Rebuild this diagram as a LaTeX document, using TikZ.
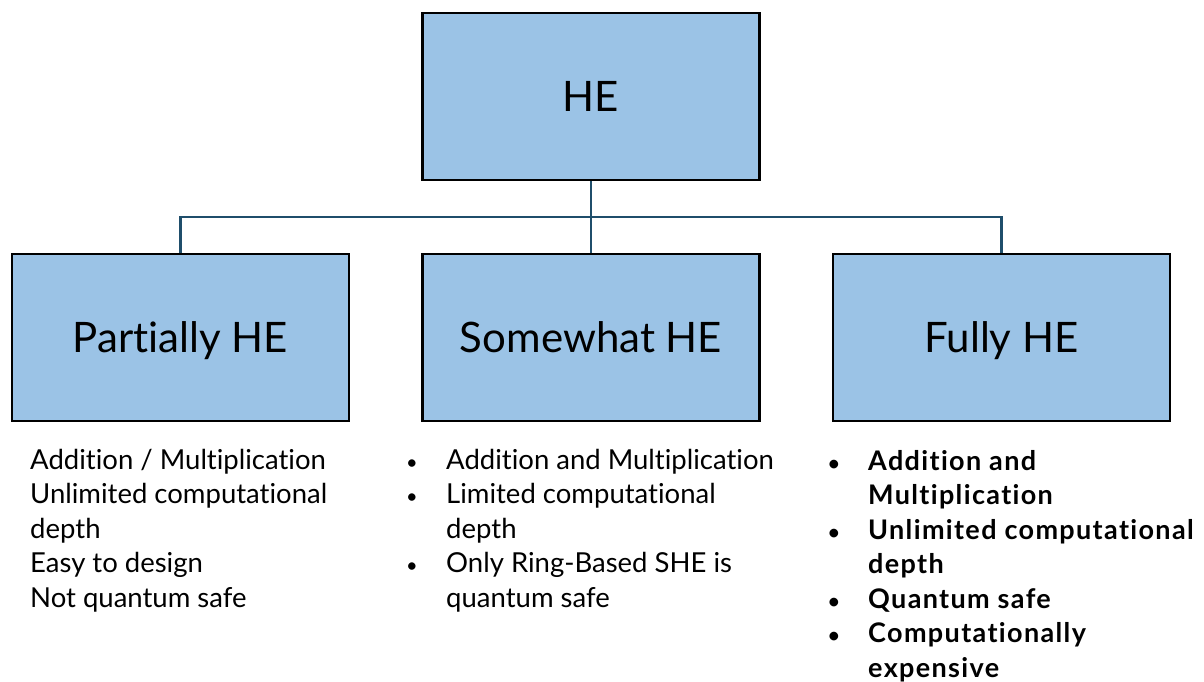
\documentclass[tikz,border=0pt]{standalone}
\usepackage{fontspec}
\setmainfont{Lato}[Ligatures=NoCommon]
\definecolor{boxfill}{HTML}{9BC3E6}
\definecolor{linkc}{HTML}{1F4E6B}
\newcommand{\bul}{\hspace*{2pt}{\fontsize{20}{20}\selectfont\textbullet}}
\begin{document}
\begin{tikzpicture}[x=1pt,y=-1pt,
  box/.style={draw=black,line width=2.5pt,fill=boxfill,minimum width=337pt,minimum height=167pt,inner sep=0pt,text height=30pt,text depth=0pt,font=\fontsize{42}{48}\selectfont},
  link/.style={draw=linkc,line width=2.5pt},
  desc/.style={anchor=north west,inner sep=0pt,font=\fontsize{27.5}{34.5}\selectfont}]
\useasboundingbox (0,0) rectangle (1204,681);
\node[box] (he) at (591,96.5) {HE};
\node[box] (phe) at (180.5,337.5) {Partially HE};
\node[box] (she) at (591,337.5) {Somewhat HE};
\node[box] (fhe) at (1001.5,337.5) {Fully HE};
\coordinate (j) at (591,217);
\draw[link] (he.south) -- (j);
\draw[link] (phe.north) |- (j) -| (fhe.north);
\draw[link] (j) -- (she.north);
\node[desc] (pd) at (30,445) {\begin{tabular}{@{}l@{}}Addition / Multiplication\\Unlimited computational\\depth\\Easy to design\\Not quantum safe\end{tabular}};
\node[desc] (sd) at (404,445) {\begin{tabular}{@{}p{42pt}@{}l@{}}\bul&Addition and Multiplication\\\bul&Limited computational\\&depth\\\bul&Only Ring-Based SHE is\\&quantum safe\end{tabular}};
\node[desc,font=\fontsize{27}{34.5}\selectfont\bfseries\addfontfeature{LetterSpace=5}] (fd) at (826,446) {\begin{tabular}{@{}p{42pt}@{}l@{}}\bul&Addition and\\&Multiplication\\\bul&Unlimited computational\\&depth\\\bul&Quantum safe\\\bul&Computationally\\&expensive\end{tabular}};
\end{tikzpicture}
\end{document}
